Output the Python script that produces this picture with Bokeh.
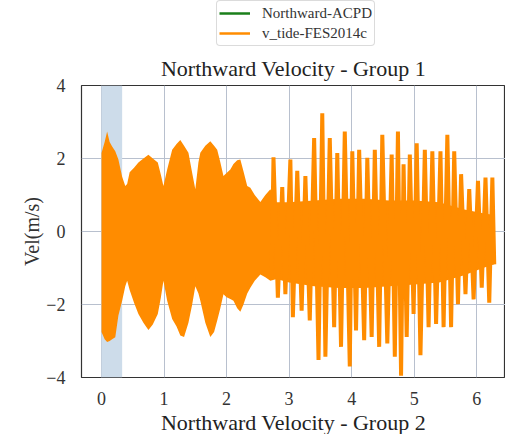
from bokeh.plotting import figure
from bokeh.layouts import column
from bokeh.models import (Legend, LegendItem, BoxAnnotation, Title, FixedTicker,
                          Range1d, ColumnDataSource)
from bokeh.embed import file_html
from bokeh.resources import INLINE

# ---- data ----
# dense tidal band (upper / lower envelope of the filled oscillation)
env_t = [0.00, 0.05, 0.09, 0.13, 0.17, 0.22, 0.27, 0.33, 0.38, 0.41,
         0.45, 0.52, 0.59, 0.67, 0.75, 0.82, 0.90, 0.95, 0.99, 1.05,
         1.13, 1.20, 1.26, 1.32, 1.39, 1.45, 1.50, 1.55, 1.58, 1.66,
         1.74, 1.80, 1.85, 1.90, 1.95, 2.00, 2.06, 2.11, 2.17, 2.22,
         2.27, 2.33, 2.38, 2.45, 2.54, 2.62, 2.70, 2.80, 3.00, 3.40,
         3.80, 4.20, 4.60, 5.00, 5.40, 5.80, 6.10, 6.28]
env_hi = [2.15, 2.45, 2.74, 2.45, 2.33, 2.20, 1.97, 1.50, 1.25, 1.30,
          1.62, 1.75, 1.89, 2.00, 2.10, 2.00, 1.89, 1.55, 1.25, 1.70,
          2.24, 2.40, 2.51, 2.35, 2.16, 1.60, 1.16, 1.90, 2.16, 2.35,
          2.47, 2.35, 2.24, 1.90, 1.52, 1.60, 1.70, 1.85, 1.95, 1.97,
          1.65, 1.25, 1.20, 1.00, 0.81, 1.00, 1.16, 0.80, 0.80, 0.85,
          0.90, 0.90, 0.85, 0.85, 0.80, 0.60, 0.50, 0.45]
env_lo = [-2.75, -2.95, -3.03, -3.00, -2.95, -2.90, -2.30, -1.90, -1.50, -1.35,
          -1.60, -1.95, -2.26, -2.50, -2.70, -2.55, -2.26, -1.80, -1.35, -1.90,
          -2.40, -2.60, -2.85, -2.89, -2.50, -2.00, -1.50, -1.70, -1.90, -2.50,
          -2.89, -2.75, -2.44, -2.10, -1.72, -1.80, -1.85, -1.90, -2.10, -2.20,
          -2.00, -1.70, -1.54, -1.35, -1.18, -1.25, -1.35, -1.30, -1.40, -1.50,
          -1.55, -1.55, -1.50, -1.45, -1.40, -1.20, -1.00, -0.90]

# individual peaks and troughs of v_tide-FES2014c (later part)
peak_t = [2.75, 2.89, 3.02, 3.13, 3.26, 3.40, 3.53, 3.65, 3.77, 3.89,
          4.01, 4.12, 4.25, 4.37, 4.49, 4.64, 4.74, 4.83, 4.93, 5.04,
          5.17, 5.29, 5.42, 5.53, 5.64, 5.75, 5.88, 6.02, 6.14, 6.25]
peak_v = [2.03, 1.22, 1.97, 1.66, 1.52, 2.56, 3.24, 2.56, 2.15, 2.74,
          2.20, 2.24, 2.02, 2.24, 2.65, 2.11, 2.74, 1.84, 2.11, 2.42,
          2.24, 2.20, 2.20, 2.65, 2.20, 1.57, 1.16, 1.39, 1.48, 1.48]
trough_t = [2.72, 2.82, 2.94, 3.06, 3.20, 3.33, 3.47, 3.58, 3.72, 3.83,
            3.97, 4.07, 4.20, 4.32, 4.44, 4.57, 4.69, 4.79, 4.88, 4.99,
            5.10, 5.23, 5.35, 5.47, 5.59, 5.70, 5.82, 5.95, 6.08, 6.20, 6.28]
trough_v = [-1.20, -1.81, -1.72, -2.35, -2.17, -2.44, -3.52, -3.43, -2.62, -3.16,
            -3.70, -2.71, -2.98, -2.89, -3.16, -3.07, -3.43, -3.95, -2.89, -2.26,
            -3.39, -2.62, -2.53, -2.62, -2.62, -1.99, -1.72, -1.86, -1.54, -1.95, -0.90]

# highlighted window
span_start = [0.0]
span_end = [0.33]

x_ticks = [0, 1, 2, 3, 4, 5, 6]
y_ticks = [-4, -2, 0, 2, 4]

title1 = "Northward Velocity - Group 1"
title2 = "Northward Velocity - Group 2"
series_names = ["Northward-ACPD", "v_tide-FES2014c"]
series_colors = ["#1a7f1a", "#ff8c00"]

# ---- build ----
FONT = "Liberation Serif"
ORANGE = series_colors[1]

pts = sorted(list(zip(peak_t, peak_v)) + list(zip(trough_t, trough_v)))
spike_src = ColumnDataSource(dict(t=[a for a, _ in pts], v=[b for _, b in pts]))
env_src = ColumnDataSource(dict(t=env_t, hi=env_hi, lo=env_lo))

# --- legend strip on top (its sample lines lie outside its view) ---
leg_fig = figure(width=505, height=47, x_range=Range1d(100, 101),
                 y_range=Range1d(100, 101), output_backend="svg",
                 toolbar_location=None, x_axis_location=None,
                 y_axis_location=None, min_border=0)
leg_fig.outline_line_color = None
leg_fig.grid.visible = False
leg_renderers = [leg_fig.line("t", "v", source=spike_src, line_color=c, line_width=2.5)
                 for c in series_colors]
legend = Legend(items=[LegendItem(label=n, renderers=[r])
                       for n, r in zip(series_names, leg_renderers)],
                location=(135, 1), orientation="vertical")
legend.label_text_font = FONT
legend.label_text_font_size = "15px"
legend.label_text_color = "#333333"
legend.glyph_width = 31
legend.glyph_height = 20
legend.label_height = 20
legend.label_standoff = 12
legend.spacing = 0
legend.padding = 2
legend.margin = 0
legend.border_line_color = "#b8b8b8"
legend.border_line_width = 1
legend.background_fill_alpha = 0.9
if "border_radius" in Legend.properties():
    legend.border_radius = 4
leg_fig.add_layout(legend, "center")

# --- main panel ---
p = figure(width=505, height=387, x_range=Range1d(-0.32, 6.46),
           y_range=Range1d(-4, 4), output_backend="svg", toolbar_location=None,
           min_border_left=81, min_border_right=0, min_border_top=38,
           min_border_bottom=55)

p.title.text = title1
p.title.align = "center"
p.title.text_font = FONT
p.title.text_font_size = "22px"
p.title.text_font_style = "normal"
p.title.text_color = "#222222"
p.title.standoff = 10

p.add_layout(Title(text=title2, align="center", text_font=FONT,
                   text_font_size="22px", text_font_style="normal",
                   text_color="#222222", standoff=0), "below")

p.background_fill_color = "white"
p.border_fill_color = "white"
p.outline_line_color = "#333333"
p.outline_line_width = 1.2

for ax in (p.xaxis[0], p.yaxis[0]):
    ax.axis_line_color = None
    ax.major_tick_line_color = None
    ax.minor_tick_line_color = None
    ax.major_label_text_font = FONT
    ax.major_label_text_font_size = "18px"
    ax.major_label_text_color = "#333333"
p.xaxis.ticker = FixedTicker(ticks=x_ticks)
p.yaxis.ticker = FixedTicker(ticks=y_ticks)
p.xaxis.major_label_standoff = 8
p.yaxis.major_label_standoff = 10
p.yaxis.axis_label = "Vel(m/s)"
p.yaxis.axis_label_text_font = FONT
p.yaxis.axis_label_text_font_size = "20px"
p.yaxis.axis_label_text_font_style = "normal"
p.yaxis.axis_label_text_color = "#333333"
p.yaxis.axis_label_standoff = 0

p.grid.grid_line_color = "#b8c0ce"
p.grid.grid_line_width = 1

band = BoxAnnotation(left=span_start[0], right=span_end[0], fill_color="#cddcea",
                     fill_alpha=1.0, line_color=None, level="underlay")
p.add_layout(band)

p.varea(x="t", y1="lo", y2="hi", source=env_src, fill_color=ORANGE)
p.line("t", "v", source=spike_src, line_color=ORANGE, line_width=4)

open("out.html", "w").write(file_html(column(leg_fig, p, spacing=0), INLINE))
